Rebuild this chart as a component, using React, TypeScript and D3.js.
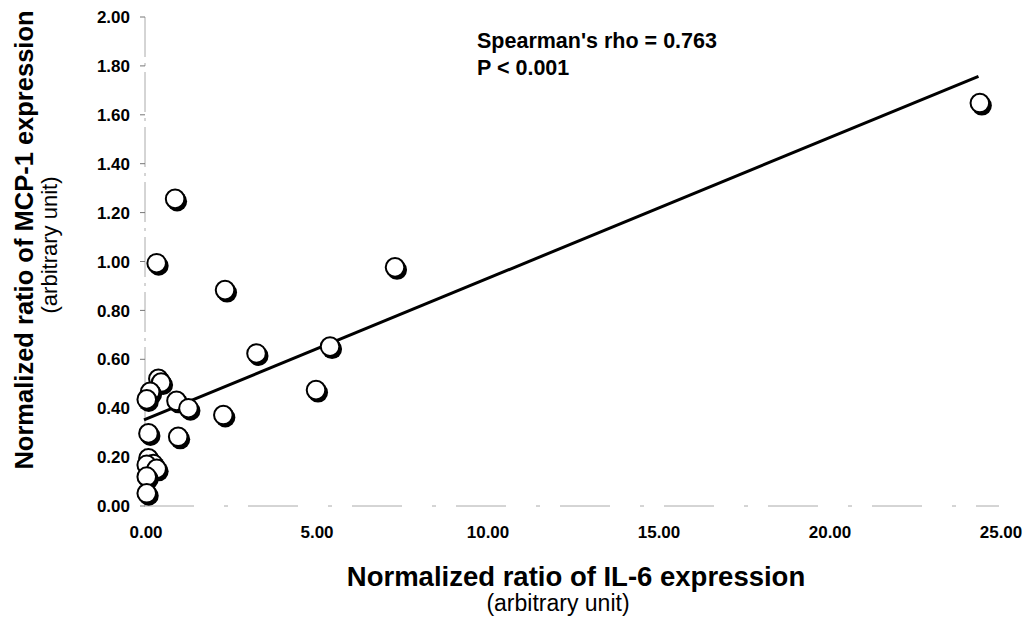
import React from 'react';
import * as d3 from 'd3';

// IL-6 (x) vs MCP-1 (y)
const il6 = [24.44, 0.91, 0.37, 7.34, 2.37, 3.29, 5.44, 5.03, 2.32, 0.95, 1.30, 1.00,
    0.42, 0.50, 0.18, 0.08, 0.13, 0.13, 0.27, 0.08, 0.37, 0.08, 0.08];
const mcp1 = [1.648, 1.256, 0.993, 0.976, 0.883, 0.624, 0.652, 0.474, 0.372, 0.430, 0.400, 0.283,
    0.520, 0.505, 0.467, 0.436, 0.297, 0.195, 0.172, 0.168, 0.152, 0.120, 0.052];

const xTicks = [0, 5, 10, 15, 20, 25];
const yTicks = [0, 0.2, 0.4, 0.6, 0.8, 1.0, 1.2, 1.4, 1.6, 1.8, 2.0];

// fitted line shown in the figure
const fitIntercept = 0.352;
const fitSlope = 0.0576;
const fitRange = [0, 24.4];

const statLines = ["Spearman's rho = 0.763", 'P < 0.001'];

const W = 1026;
const H = 624;
const FONT = '"Liberation Sans", Arial, sans-serif';

const App = () => {
    const x = d3.scaleLinear().domain([0, 25]).range([144, 999]);
    const y = d3.scaleLinear().domain([0, 2]).range([506, 17]);

    const line = d3.line<number>()
        .x(d => x(d))
        .y(d => y(fitIntercept + fitSlope * d));

    const pts = il6.map((v, i) => ({x: v, y: mcp1[i]}));

    return (
        <svg width={W} height={H} style={{position: 'absolute', left: 0, top: 0, background: '#fff'}}
             fontFamily={FONT}>
            {/* axes, faint like the scan */}
            <line x1={x(0) + 1} x2={x(0) + 1} y1={y(2)} y2={y(0)} stroke="#aaa" strokeWidth={1}
                  strokeDasharray="40 6 3 6"/>
            <line x1={x(0)} x2={x(25)} y1={y(0)} y2={y(0)} stroke="#aaa" strokeWidth={1}
                  strokeDasharray="50 30 4 20"/>
            {yTicks.map(t => (
                <g key={t}>
                    <line x1={x(0) - 4} x2={x(0) + 1} y1={y(t)} y2={y(t)} stroke="#777" strokeWidth={1}/>
                    <text x={130} y={y(t)} dy="0.36em" textAnchor="end" fontSize={17} fontWeight="bold">
                        {t.toFixed(2)}
                    </text>
                </g>
            ))}
            {xTicks.map(t => (
                <text key={t} x={x(t) + 2} y={538} textAnchor="middle" fontSize={17} fontWeight="bold">
                    {t.toFixed(2)}
                </text>
            ))}

            <path d={line(fitRange) || ''} fill="none" stroke="#000" strokeWidth={3}/>

            {pts.map((p, i) => (
                <g key={i}>
                    <circle cx={x(p.x) + 2} cy={y(p.y) + 2.5} r={10} fill="#000"/>
                    <circle cx={x(p.x)} cy={y(p.y)} r={9.3} fill="#fff" stroke="#000" strokeWidth={2}/>
                </g>
            ))}

            {statLines.map((s, i) => (
                <text key={s} x={477} y={48 + i * 27} fontSize={21.5} fontWeight="bold">{s}</text>
            ))}

            <text x={576} y={586} textAnchor="middle" fontSize={27.5} fontWeight="bold">
                Normalized ratio of IL-6 expression
            </text>
            <text x={558} y={611} textAnchor="middle" fontSize={23}>(arbitrary unit)</text>

            <g transform="translate(33,240) rotate(-90)">
                <text x={0} y={0} textAnchor="middle" fontSize={25.5} fontWeight="bold">
                    Normalized ratio of MCP-1 expression
                </text>
                <text x={-5} y={24} textAnchor="middle" fontSize={22}>(arbitrary unit)</text>
            </g>
        </svg>
    );
};

export default App;
